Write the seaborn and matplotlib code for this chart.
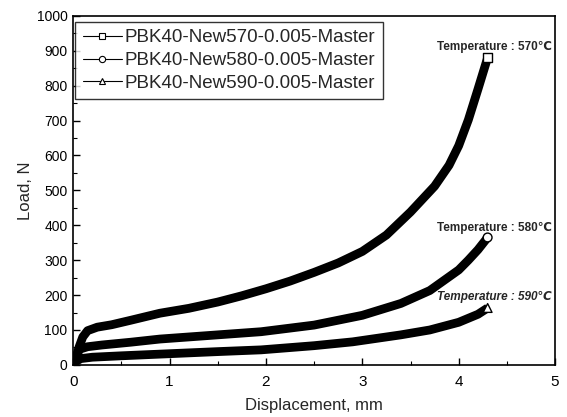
import matplotlib
matplotlib.use("Agg")
import matplotlib.pyplot as plt
from matplotlib.lines import Line2D
from matplotlib.ticker import MultipleLocator
import seaborn as sns
import pandas as pd

# ---- data ----
x570 = [0, 0.03, 0.06, 0.1, 0.15, 0.25, 0.4, 0.6, 0.9, 1.2, 1.5, 1.75, 2.0, 2.25, 2.5, 2.75, 3.0, 3.25, 3.5, 3.75, 3.9, 4.0, 4.1, 4.2, 4.3]
y570 = [0, 20, 50, 80, 98, 108, 115, 128, 148, 162, 180, 198, 218, 240, 265, 292, 325, 372, 438, 512, 572, 628, 702, 790, 880]

x580 = [0, 0.03, 0.07, 0.15, 0.3, 0.6, 0.9, 1.4, 1.95, 2.5, 3.0, 3.4, 3.7, 4.0, 4.1, 4.2, 4.3]
y580 = [0, 25, 45, 52, 57, 65, 74, 84, 95, 114, 142, 176, 213, 272, 300, 330, 365]

x590 = [0, 0.03, 0.08, 0.2, 0.5, 1.0, 1.5, 1.95, 2.5, 2.9, 3.4, 3.7, 4.0, 4.2, 4.3]
y590 = [0, 10, 18, 22, 26, 32, 38, 43, 55, 66, 86, 100, 122, 145, 163]

series = ["PBK40-New570-0.005-Master", "PBK40-New580-0.005-Master", "PBK40-New590-0.005-Master"]
markers = ["s", "o", "^"]
temps = ["Temperature : 570\u2103", "Temperature : 580\u2103", "Temperature : 590\u2103"]
temp_pos = [(4.97, 911), (4.97, 392), (4.97, 195)]

rows = []
for name, xs, ys in zip(series, [x570, x580, x590], [y570, y580, y590]):
    for a, b in zip(xs, ys):
        rows.append({"series": name, "x": a, "y": b})
df = pd.DataFrame(rows)

sns.set_theme(style="ticks")
plt.rcParams["font.family"] = ["Liberation Sans", "DejaVu Sans"]

fig = plt.figure(figsize=(5.67, 4.17), dpi=100)
ax = fig.add_axes([0.129, 0.125, 0.850, 0.837])

sns.lineplot(data=df, x="x", y="y", hue="series", palette=["black"] * 3,
             linewidth=6.3, estimator=None, sort=False, legend=False, ax=ax,
             solid_capstyle="butt", solid_joinstyle="round")

last = df.groupby("series", sort=False).tail(1)
sns.scatterplot(data=last, x="x", y="y", style="series", markers=dict(zip(series, markers)),
                color="white", edgecolor="black", linewidth=1.0, s=40, legend=False,
                ax=ax, zorder=5)

ax.set_xlim(0, 5)
ax.set_ylim(0, 1000)
ax.xaxis.set_major_locator(MultipleLocator(1))
ax.xaxis.set_minor_locator(MultipleLocator(0.5))
ax.yaxis.set_major_locator(MultipleLocator(100))
ax.yaxis.set_minor_locator(MultipleLocator(50))
ax.tick_params(axis="both", which="major", direction="in", length=5, width=1, colors="black")
ax.tick_params(axis="both", which="minor", direction="in", length=3, width=0.8, colors="black")
ax.tick_params(axis="x", labelsize=11, pad=7)
ax.tick_params(axis="y", labelsize=10, pad=4)
for s in ax.spines.values():
    s.set_visible(True)
    s.set_linewidth(1.2)
    s.set_color("black")

ax.set_xlabel("Displacement, mm", fontsize=12, labelpad=7)
ax.set_ylabel("Load, N", fontsize=12, labelpad=3)

for (tx, ty), txt, st in zip(temp_pos, temps, ["normal", "normal", "italic"]):
    ax.text(tx, ty, txt, ha="right", va="center", fontsize=8.5, fontweight="bold", style=st)

handles = [Line2D([], [], color="black", linewidth=0.8, marker=m, markersize=4.5,
                  markerfacecolor="white", markeredgecolor="black", markeredgewidth=0.8)
           for m in markers]
leg = ax.legend(handles, series, loc="upper left", bbox_to_anchor=(0.004, 0.983),
                borderaxespad=0, fontsize=13.5, handlelength=2.1, handletextpad=0.15,
                labelspacing=0.3, borderpad=0.4, frameon=True, fancybox=False)
leg.get_frame().set_edgecolor("black")
leg.get_frame().set_linewidth(1.0)

fig.savefig("out.png", dpi=100)
